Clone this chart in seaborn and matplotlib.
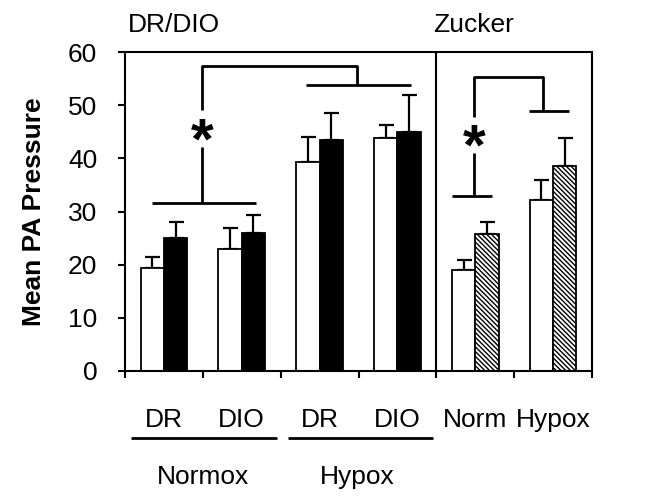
import numpy as np
import pandas as pd
import matplotlib
matplotlib.use("Agg")
import matplotlib.pyplot as plt
import matplotlib.transforms as mtransforms
import seaborn as sns

# ---- data ----
categories = ["Normox DR", "Normox DIO", "Hypox DR", "Hypox DIO", "Zucker Norm", "Zucker Hypox"]
tick_labels = ["DR", "DIO", "DR", "DIO", "Norm", "Hypox"]
ctrl_mean = [19.4, 23.0, 39.3, 43.8, 19.0, 32.2]
ctrl_err = [2.0, 3.9, 4.7, 2.5, 1.9, 3.7]
treat_mean = [25.0, 26.0, 43.4, 45.0, 25.8, 38.6]
treat_err = [3.0, 3.3, 5.1, 7.0, 2.2, 5.2]
series = ["control", "treated"]
group_labels = ["Normox", "Hypox"]
panel_labels = ["DR/DIO", "Zucker"]

sns.set_style("ticks")
plt.rcParams["font.family"] = ["Liberation Sans", "DejaVu Sans"]
plt.rcParams["hatch.linewidth"] = 1.0
plt.rcParams["text.color"] = "black"
plt.rcParams["axes.labelcolor"] = "black"
plt.rcParams["xtick.color"] = "black"
plt.rcParams["ytick.color"] = "black"

df = pd.DataFrame({
    "cat": categories * 2,
    "series": [series[0]] * 6 + [series[1]] * 6,
    "value": ctrl_mean + treat_mean,
})

fig = plt.figure(figsize=(6.6, 4.96), dpi=100)
ax = fig.add_axes([125 / 660, 1 - 371 / 496, 467 / 660, 319 / 496])

sns.barplot(data=df, x="cat", y="value", hue="series", order=categories,
            hue_order=series, palette=["white", "black"], width=0.6,
            edgecolor="black", linewidth=1.3, errorbar=None, legend=False,
            ax=ax, zorder=2)

# Zucker treated bars hatched
for p in ax.patches:
    cx = p.get_x() + p.get_width() / 2
    fc = p.get_facecolor()
    if cx > 3.5 and fc[0] < 0.5:
        p.set_facecolor("white")
        p.set_hatch("\\\\\\\\\\\\\\")
        p.set_edgecolor("black")

# error bars (upper only)
xs = np.arange(len(categories))
ax.errorbar(xs - 0.15, ctrl_mean, yerr=[np.zeros(6), ctrl_err], fmt="none",
            ecolor="black", elinewidth=1.6, capsize=5.4, capthick=1.6, zorder=1)
ax.errorbar(xs + 0.15, treat_mean, yerr=[np.zeros(6), treat_err], fmt="none",
            ecolor="black", elinewidth=1.6, capsize=5.4, capthick=1.6, zorder=1)

ax.set_xlim(-0.5, 5.5)
ax.set_ylim(0, 60)
ax.set_yticks(range(0, 61, 10))
ax.set_xticks(xs)
ax.set_xticklabels(tick_labels)
ax.set_xticks(np.arange(-0.5, 5.6, 1.0), minor=True)
ax.tick_params(axis="x", which="major", length=0, pad=26.5, labelsize=19, colors="black")
ax.tick_params(axis="x", which="minor", length=5, width=1.5, direction="out", colors="black")
ax.tick_params(axis="y", length=5, width=1.5, direction="out", pad=15, labelsize=19, colors="black")
ax.set_xlabel("")
ax.set_ylabel("Mean PA Pressure", fontsize=19, fontweight="bold", labelpad=16, color="black")
for s in ax.spines.values():
    s.set_visible(True)
    s.set_linewidth(1.5)
    s.set_color("black")
ax.axvline(3.5, color="black", lw=1.5, zorder=3)

lk = dict(color="black", lw=2.0, solid_capstyle="butt", clip_on=False, zorder=3)
# DR/DIO significance brackets
ax.plot([-0.153, 1.183], [31.6, 31.6], **lk)
ax.plot([0.489, 0.489], [31.6, 42.2], **lk)
ax.plot([0.489, 0.489, 2.481, 2.481], [49.0, 57.4, 57.4, 53.8], **lk)
ax.plot([1.826, 3.175], [53.8, 53.8], **lk)
ax.text(0.489, 42.8, "*", ha="center", va="center", fontsize=42, fontweight="bold", color="black")
# Zucker brackets
ax.plot([3.70, 4.215], [33.0, 33.0], **lk)
ax.plot([3.984, 3.984], [33.0, 41.0], **lk)
ax.plot([3.984, 3.984, 4.871, 4.871], [47.8, 55.3, 55.3, 48.9], **lk)
ax.plot([4.691, 5.205], [48.9, 48.9], **lk)
ax.text(3.984, 41.6, "*", ha="center", va="center", fontsize=42, fontweight="bold", color="black")

# group labels below axis
trans = mtransforms.blended_transform_factory(ax.transData, ax.transAxes)
ax.plot([-0.423, 1.453], [-0.210, -0.210], transform=trans, **lk)
ax.plot([1.594, 3.457], [-0.210, -0.210], transform=trans, **lk)
ax.text(0.50, -0.296, group_labels[0], transform=trans, ha="center", va="top", fontsize=19, color="black")
ax.text(2.48, -0.296, group_labels[1], transform=trans, ha="center", va="top", fontsize=19, color="black")

# panel labels on top
ax.text(-0.46, 1.063, panel_labels[0], transform=trans, ha="left", va="baseline", fontsize=19, color="black")
ax.text(3.46, 1.063, panel_labels[1], transform=trans, ha="left", va="baseline", fontsize=19, color="black")

fig.savefig("out.png", dpi=100)
